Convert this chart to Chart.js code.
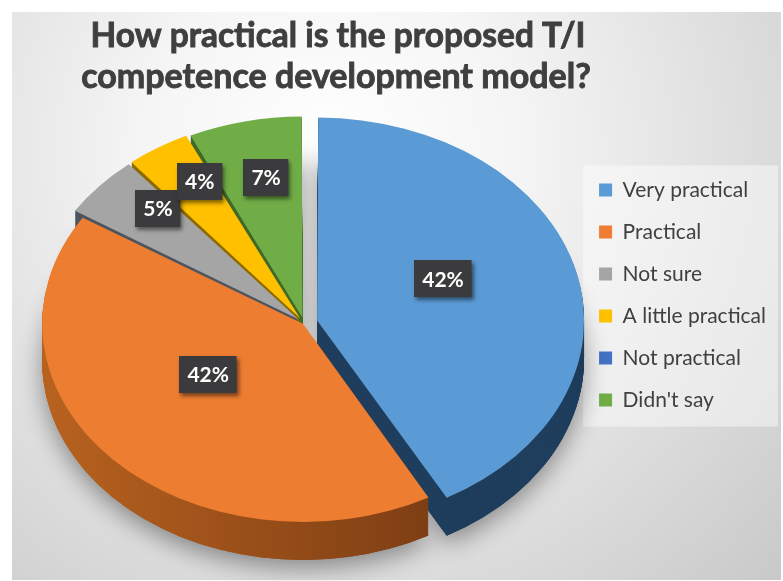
<!DOCTYPE html>
<html>
<head>
    <meta charset="utf-8">
    <title>Practicality of the T/I model</title>
    <script src="https://cdn.jsdelivr.net/npm/chart.js"></script>
    <style>
        html, body { margin: 0; background: #fff; }
    </style>
</head>
<body>
    <canvas id="pieChart" width="783" height="581"></canvas>
    <script>
        var titleLines = ['How practical is the proposed T/I', 'competence development model?'];
        var answers = ['Very practical', 'Practical', 'Not sure', 'A little practical', 'Not practical', "Didn't say"];
        var shares = [42, 42, 5, 4, 0, 7];

        var topColors = ['#5b9bd5', '#ed7d31', '#a5a5a5', '#ffc000', '#4472c4', '#70ad47'];
        var sideColors = ['#1f3d5c', '#94491a', '#4d5560', '#8c6a00', '#24407a', '#3f6a27'];
        var explode = [54, 6, 30, 30, 0, 30];

        var TILT = 0.76;   // how flat the pie looks
        var DEPTH = 38;    // thickness of the pie, px
        var LIFT = 28;     // pie face sits lower than the plot centre
        var TAG_LIFT = 11; // the % tags sit a little higher than the face

        function sideFill(ctx, arc, i) {
            if (i !== 1) return sideColors[i];
            // orange rim is lighter on the left
            var g = ctx.createLinearGradient(arc.x - arc.outerRadius, 0, arc.x + arc.outerRadius, 0);
            g.addColorStop(0, '#b8621f');
            g.addColorStop(1, '#6a3210');
            return g;
        }

        function paint(ctx, arc, fill) {
            var o = arc.options;
            var bg = o.backgroundColor, bc = o.borderColor;
            o.backgroundColor = fill;
            o.borderColor = fill;
            arc.draw(ctx);
            o.backgroundColor = bg;
            o.borderColor = bc;
        }

        function project(chart) {
            var ctx = chart.ctx;
            var cy = chart.getDatasetMeta(0).data[0].y;
            ctx.translate(0, cy + LIFT);
            ctx.scale(1, TILT);
            ctx.translate(0, -cy);
        }

        function tagReach(v) {
            if (v >= 10) return 0.5;
            return v < 6 ? 0.72 : 0.64;
        }

        function drawTag(ctx, text, x, y) {
            ctx.font = 'bold 21px Lato';
            var w = ctx.measureText(text).width + 16, h = 37;
            ctx.save();
            ctx.shadowColor = 'rgba(0,0,0,0.5)';
            ctx.shadowBlur = 4;
            ctx.shadowOffsetX = 2;
            ctx.shadowOffsetY = 3;
            ctx.fillStyle = '#3b3b3d';
            ctx.fillRect(Math.round(x - w / 2), Math.round(y - h / 2), w, h);
            ctx.restore();
            ctx.fillStyle = '#ffffff';
            ctx.textAlign = 'center';
            ctx.textBaseline = 'middle';
            ctx.fillText(text, x, y + 1);
        }

        var backdrop = {
            id: 'backdrop',
            beforeDraw: function(chart) {
                var ctx = chart.ctx;
                var g = ctx.createRadialGradient(330, 150, 0, 330, 150, 620);
                g.addColorStop(0, '#ffffff');
                g.addColorStop(0.3, '#f5f5f5');
                g.addColorStop(1, '#c9c9c9');
                ctx.save();
                ctx.fillStyle = g;
                ctx.fillRect(12, 12, chart.width - 14, chart.height - 13);

                // legend panel
                var hb = chart.legend.legendHitBoxes;
                if (hb && hb.length) {
                    var first = hb[0], last = hb[hb.length - 1];
                    ctx.fillStyle = 'rgba(255,255,255,0.45)';
                    ctx.fillRect(first.left - 16, first.top - 14, chart.width - 5 - (first.left - 16), last.top + last.height - first.top + 30);
                }

                // title, stroked a little to get the heavier look
                ctx.fillStyle = '#3f3f3f';
                ctx.strokeStyle = '#3f3f3f';
                ctx.lineWidth = 0.9;
                ctx.font = 'bold 34px Lato';
                ctx.textAlign = 'center';
                ctx.textBaseline = 'alphabetic';
                ctx.fillText(titleLines[0], 338, 47, 495);
                ctx.strokeText(titleLines[0], 338, 47, 495);
                ctx.fillText(titleLines[1], 336, 88, 519);
                ctx.strokeText(titleLines[1], 336, 88, 519);
                ctx.restore();
            }
        };

        var pie3d = {
            id: 'pie3d',
            beforeDatasetsDraw: function(chart) {
                var ctx = chart.ctx;
                var arcs = chart.getDatasetMeta(0).data;
                ctx.save();
                project(chart);

                // soft shadow under the pie
                ctx.save();
                ctx.shadowColor = 'rgba(0,0,0,0.4)';
                ctx.shadowBlur = 24;
                ctx.shadowOffsetY = 8;
                ctx.translate(0, DEPTH / TILT);
                arcs.forEach(function(a, i) { paint(ctx, a, sideFill(ctx, a, i)); });
                ctx.restore();

                for (var d = DEPTH; d >= 1; d--) {
                    ctx.save();
                    ctx.translate(0, d / TILT);
                    arcs.forEach(function(a, i) { paint(ctx, a, sideFill(ctx, a, i)); });
                    ctx.restore();
                }
                // leave the projection on, the slices are drawn next
            },
            afterDatasetsDraw: function(chart) {
                var ctx = chart.ctx;
                ctx.restore();
                var arcs = chart.getDatasetMeta(0).data;
                ctx.save();
                arcs.forEach(function(a, i) {
                    if (!shares[i]) return;
                    var mid = (a.startAngle + a.endAngle) / 2;
                    var r = (a.options.offset || 0) / 4 + a.outerRadius * tagReach(shares[i]);
                    var lx = a.x + Math.cos(mid) * r;
                    var ly = a.y + Math.sin(mid) * r;
                    drawTag(ctx, shares[i] + '%', lx, a.y + TAG_LIFT + TILT * (ly - a.y));
                });
                ctx.restore();
            }
        };

        var ctx = document.getElementById('pieChart').getContext('2d');
        var pieChart = new Chart(ctx, {
            type: 'pie',
            data: {
                labels: answers,
                datasets: [{
                    data: shares,
                    backgroundColor: topColors,
                    borderWidth: 0,
                    offset: explode,
                    radius: 260,
                    clip: false
                }]
            },
            options: {
                responsive: false,
                animation: false,
                events: [],
                layout: { padding: { left: 30, right: 7, top: 22, bottom: 13 } },
                plugins: {
                    title: { display: false },
                    tooltip: { enabled: false },
                    legend: {
                        position: 'right',
                        labels: {
                            color: '#404040',
                            font: { family: 'Lato', size: 21 },
                            boxWidth: 13,
                            boxHeight: 13,
                            padding: 21
                        }
                    }
                }
            },
            plugins: [backdrop, pie3d]
        });
    </script>
</body>
</html>
